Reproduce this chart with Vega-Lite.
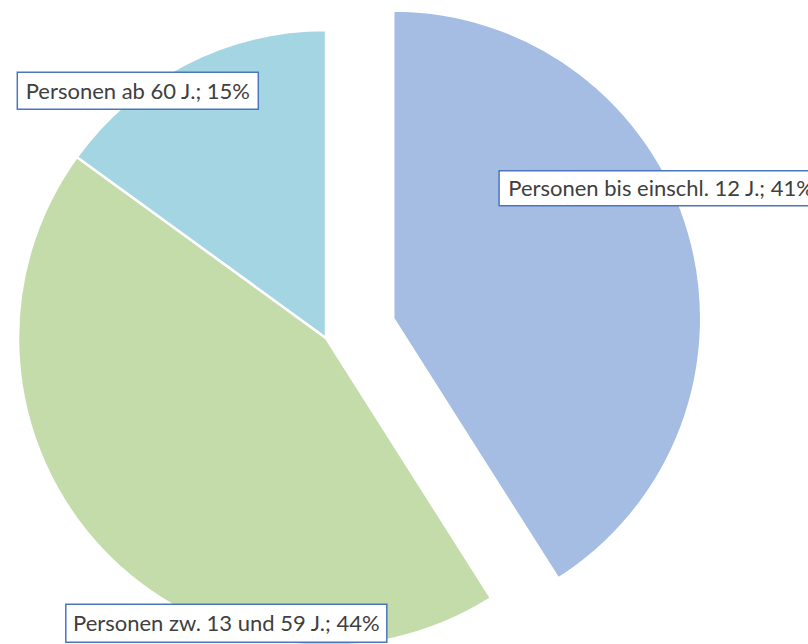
{
  "$schema": "https://vega.github.io/schema/vega-lite/v6.json",
  "width": 652,
  "height": 612,
  "autosize": {"type": "none"},
  "padding": {"left": 0, "top": 32, "right": 156, "bottom": 0},
  "background": "white",
  "config": {"view": {"stroke": null}},
  "data": {
    "values": [
      {"gruppe": "Personen bis einschl. 12 J.", "anteil": 41},
      {"gruppe": "Personen zw. 13 und 59 J.", "anteil": 44},
      {"gruppe": "Personen ab 60 J.", "anteil": 15}
    ]
  },
  "transform": [
    {"stack": "anteil", "groupby": [], "as": ["s0", "s1"]},
    {"calculate": "PI*(datum.s0+datum.s1)/100", "as": "mid"},
    {"calculate": "70*sin(datum.mid)", "as": "ex"},
    {"calculate": "70*cos(datum.mid)", "as": "ey"},
    {"calculate": "300*sin(datum.mid)", "as": "lx"},
    {"calculate": "300*cos(datum.mid)", "as": "ly"},
    {"calculate": "datum.gruppe + '; ' + datum.anteil + '%'", "as": "label"}
  ],
  "layer": [
    {
      "transform": [{"filter": "datum.gruppe !== 'Personen bis einschl. 12 J.'"}],
      "mark": {"type": "arc", "outerRadius": 308, "stroke": "white", "strokeWidth": 2.5},
      "encoding": {
        "theta": {"field": "s0", "type": "quantitative", "scale": {"domain": [0, 100], "range": [0, 6.283185307179586]}},
        "theta2": {"field": "s1"},
        "color": {
          "field": "gruppe", "type": "nominal", "legend": null,
          "scale": {"domain": ["Personen bis einschl. 12 J.", "Personen zw. 13 und 59 J.", "Personen ab 60 J."], "range": ["#A5BCE3", "#C3DCAA", "#A4D5E3"]}
        }
      }
    },
    {
      "transform": [{"filter": "datum.gruppe === 'Personen bis einschl. 12 J.'"}],
      "mark": {"type": "arc", "outerRadius": 308, "stroke": "white", "strokeWidth": 2.5},
      "encoding": {
        "x": {"field": "ex", "type": "quantitative", "axis": null, "scale": {"domain": [-326, 326], "nice": false, "zero": false}},
        "y": {"field": "ey", "type": "quantitative", "axis": null, "scale": {"domain": [-306, 306], "nice": false, "zero": false}},
        "theta": {"field": "s0", "type": "quantitative", "scale": {"domain": [0, 100], "range": [0, 6.283185307179586]}},
        "theta2": {"field": "s1"},
        "color": {
          "field": "gruppe", "type": "nominal", "legend": null,
          "scale": {"domain": ["Personen bis einschl. 12 J.", "Personen zw. 13 und 59 J.", "Personen ab 60 J."], "range": ["#A5BCE3", "#C3DCAA", "#A4D5E3"]}
        }
      }
    },
    {
      "transform": [{"filter": "datum.gruppe === 'Personen ab 60 J.'"}],
      "layer": [
        {
          "mark": {"type": "point", "shape": "M-120.5,-18.5H120.5V18.5H-120.5Z", "size": 4, "filled": true, "fill": "white", "stroke": "#4A76C0", "strokeWidth": 1.5, "opacity": 1, "xOffset": -52, "yOffset": 20}
        },
        {
          "mark": {"type": "text", "font": "Lato", "fontSize": 22, "color": "#404040", "align": "center", "baseline": "middle", "xOffset": -52, "yOffset": 21},
          "encoding": {"text": {"field": "label"}}
        }
      ],
      "encoding": {
        "x": {"field": "lx", "type": "quantitative", "axis": null, "scale": {"domain": [-326, 326], "nice": false, "zero": false}},
        "y": {"field": "ly", "type": "quantitative", "axis": null, "scale": {"domain": [-306, 306], "nice": false, "zero": false}}
      }
    },
    {
      "transform": [{"filter": "datum.gruppe === 'Personen bis einschl. 12 J.'"}],
      "layer": [
        {
          "mark": {"type": "point", "shape": "M-160,-17.5H160V17.5H-160Z", "size": 4, "filled": true, "fill": "white", "stroke": "#4A76C0", "strokeWidth": 1.5, "opacity": 1, "xOffset": 45, "yOffset": -66}
        },
        {
          "mark": {"type": "text", "font": "Lato", "fontSize": 22, "color": "#404040", "align": "center", "baseline": "middle", "xOffset": 47, "yOffset": -65},
          "encoding": {"text": {"field": "label"}}
        }
      ],
      "encoding": {
        "x": {"field": "lx", "type": "quantitative", "axis": null, "scale": {"domain": [-326, 326], "nice": false, "zero": false}},
        "y": {"field": "ly", "type": "quantitative", "axis": null, "scale": {"domain": [-306, 306], "nice": false, "zero": false}}
      }
    },
    {
      "transform": [{"filter": "datum.gruppe === 'Personen zw. 13 und 59 J.'"}],
      "layer": [
        {
          "mark": {"type": "point", "shape": "M-160.5,-19H160.5V19H-160.5Z", "size": 4, "filled": true, "fill": "white", "stroke": "#4A76C0", "strokeWidth": 1.5, "opacity": 1, "xOffset": 119, "yOffset": 80}
        },
        {
          "mark": {"type": "text", "font": "Lato", "fontSize": 22, "color": "#404040", "align": "center", "baseline": "middle", "xOffset": 119, "yOffset": 81},
          "encoding": {"text": {"field": "label"}}
        }
      ],
      "encoding": {
        "x": {"field": "lx", "type": "quantitative", "axis": null, "scale": {"domain": [-326, 326], "nice": false, "zero": false}},
        "y": {"field": "ly", "type": "quantitative", "axis": null, "scale": {"domain": [-306, 306], "nice": false, "zero": false}}
      }
    }
  ]
}
